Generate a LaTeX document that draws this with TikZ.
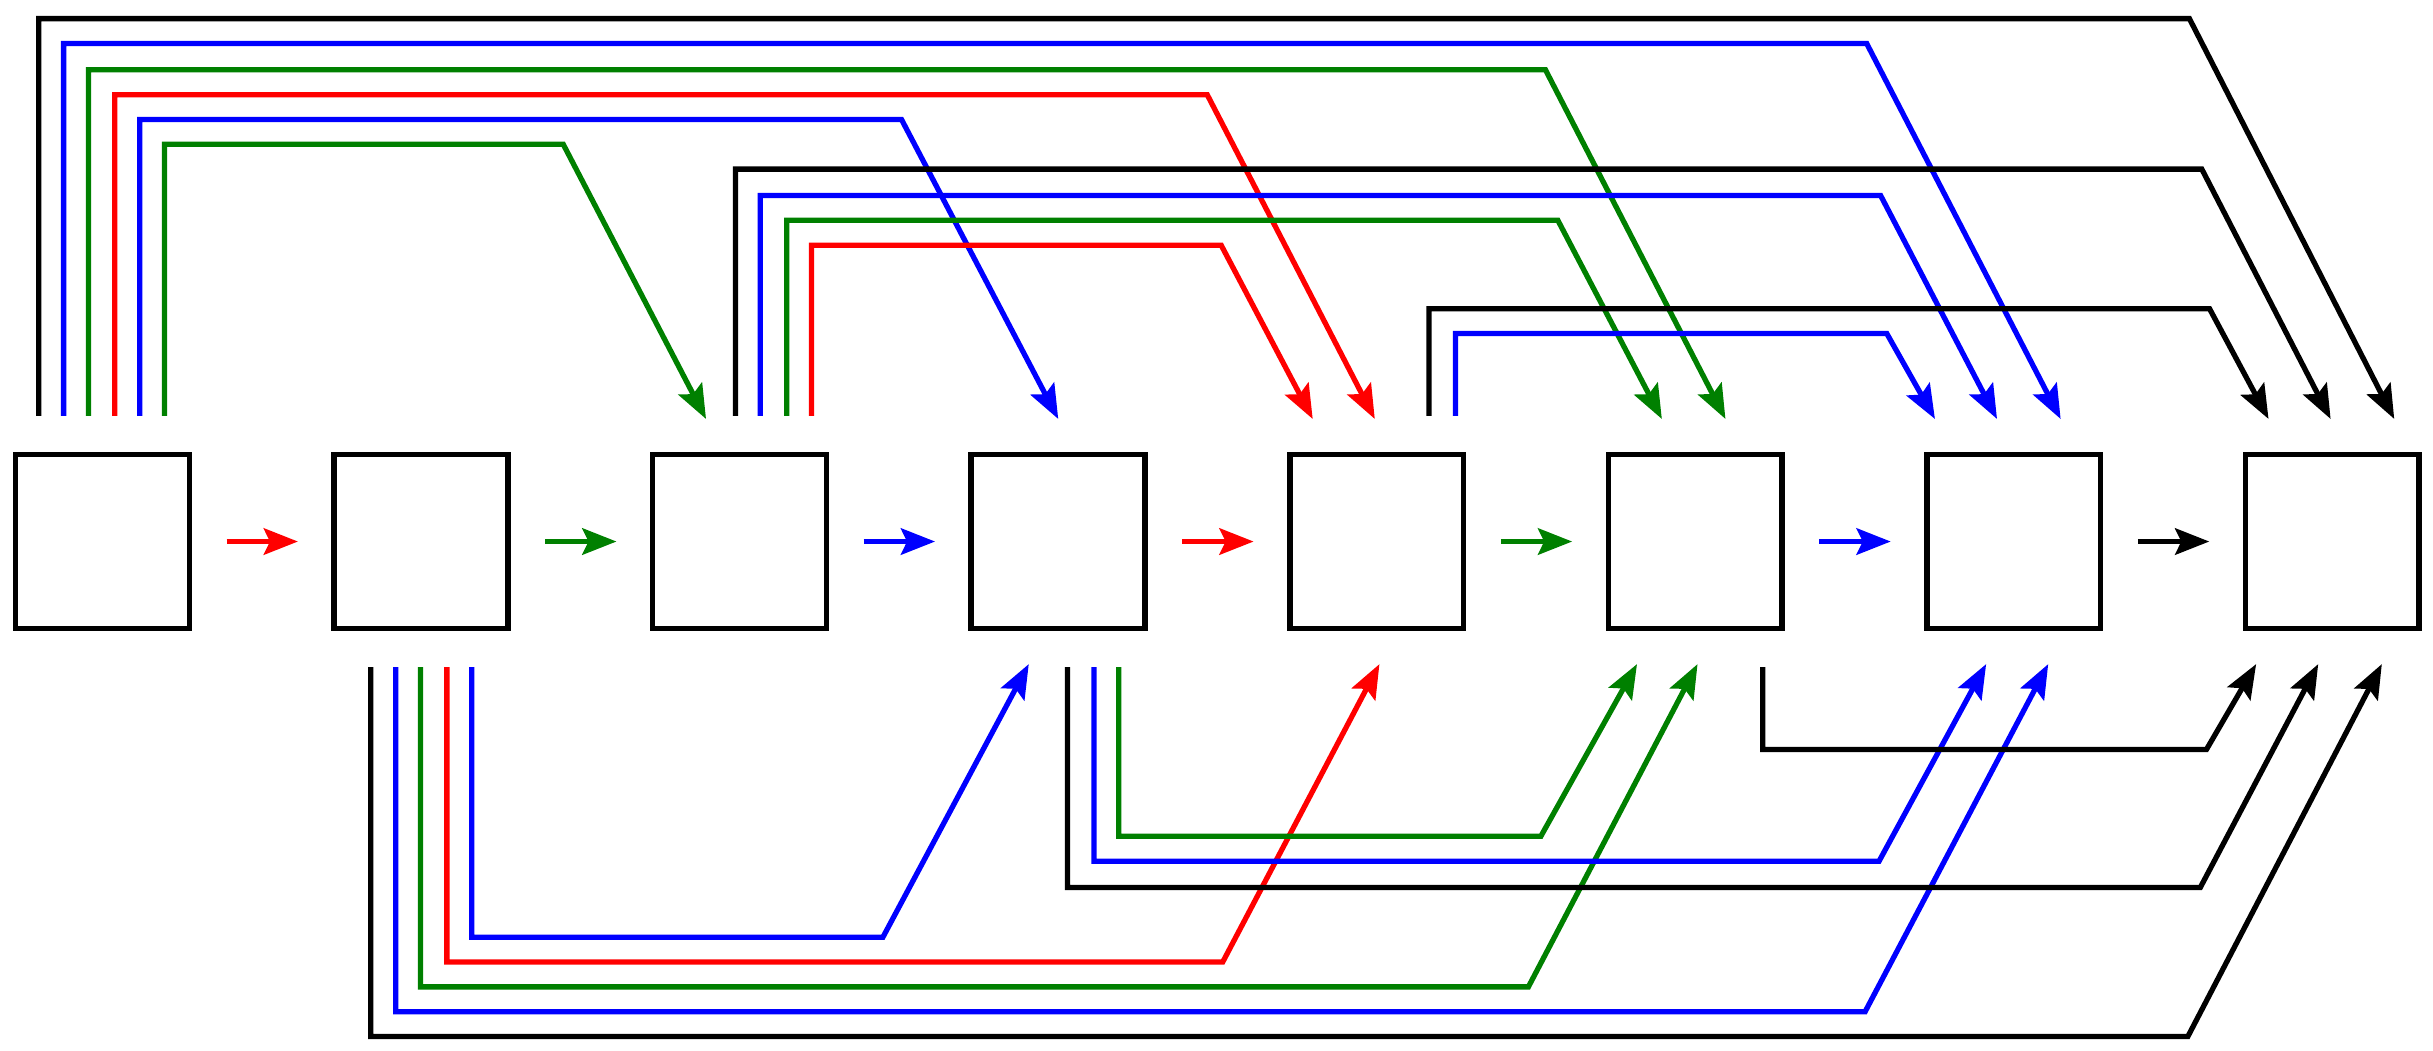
\documentclass[tikz,border=0pt]{standalone}
\usetikzlibrary{arrows.meta}
\definecolor{dg}{RGB}{0,128,0}
\begin{document}
\begin{tikzpicture}[x=1pt,y=-1pt,
  box/.style={draw,line width=3.6pt,minimum size=112pt,inner sep=0pt},
  ln/.style={line width=3.4pt,-{Stealth[length=22pt,width=17pt,inset=4pt]}}]
\useasboundingbox (0,0) rectangle (1568,677);
\foreach \i in {0,...,7}{\node[box] (b\i) at ({66+205.3*\i},349) {};}
\foreach \i/\c in {0/red,1/dg,2/blue,3/red,4/dg,5/blue,6/black}{
  \pgfmathsetmacro\xa{146+205.3*\i}
  \draw[ln,\c] (\xa,349) -- ++(46,0);}
% top
\foreach \x/\l/\cx/\ex/\c in {25/12/1411/1543/black,41/28/1203/1328/blue,57/45/996/1112/dg,74/61/778/886/red,90/77/581/682/blue,106/93/363/455/dg,
474/109/1419/1502/black,490/126/1212/1287/blue,507/142/1004/1071/dg,523/158/787/846/red,921/199/1424/1462/black,938/215/1216/1247/blue}
  \draw[ln,\c,line join=miter] (\x,268) -- (\x,\l) -- (\cx,\l) -- (\ex,270);
% bottom
\foreach \x/\l/\cx/\ex/\c in {239/668/1410/1535/black,255/652/1202/1320/blue,271/636/985/1094/dg,288/620/788/889/red,304/604/569/663/blue,
688/572/1418/1494/black,705/555/1211/1280/blue,721/539/993/1055/dg,1136/483/1422/1454/black}
  \draw[ln,\c,line join=miter] (\x,430) -- (\x,\l) -- (\cx,\l) -- (\ex,428);
\end{tikzpicture}
\end{document}
